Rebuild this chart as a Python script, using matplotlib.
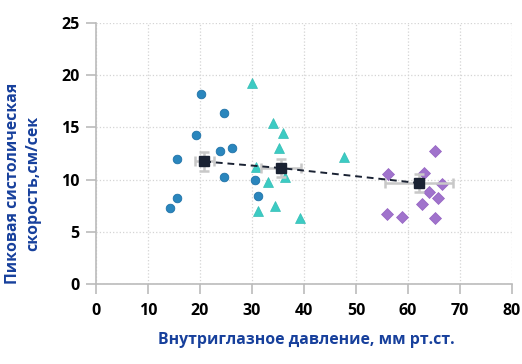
import matplotlib
matplotlib.use("Agg")
import matplotlib.pyplot as plt

plt.rcParams['font.family'] = ['Open Sans', 'DejaVu Sans']

# group 1 (circles)
circ_x = [20.2, 24.7, 19.3, 23.9, 26.2, 15.5, 24.7, 30.5, 31.1, 15.5, 14.3]
circ_y = [18.2, 16.4, 14.25, 12.7, 13.0, 11.95, 10.2, 10.0, 8.4, 8.2, 7.25]

# group 2 (triangles)
tri_x = [29.9, 34.1, 36.0, 35.1, 30.8, 36.4, 33.1, 34.5, 31.2, 39.3, 47.6]
tri_y = [19.2, 15.4, 14.45, 13.0, 11.2, 10.2, 9.75, 7.45, 6.97, 6.3, 12.15]

# group 3 (diamonds)
dia_x = [65.2, 56.2, 63.0, 66.5, 64.0, 65.8, 62.7, 56.0, 58.8, 65.2]
dia_y = [12.75, 10.5, 10.65, 9.6, 8.83, 8.26, 7.7, 6.72, 6.44, 6.34]

# group means with errors
mean_x = [20.8, 35.5, 62.1]
mean_y = [11.73, 11.1, 9.66]
err_x = [1.8, 3.85, 6.5]
err_y = [0.9, 0.88, 0.9]

x_ticks = [0, 10, 20, 30, 40, 50, 60, 70, 80]
y_ticks = [0, 5, 10, 15, 20, 25]

fig = plt.figure(figsize=(5.22, 3.64), dpi=100)
ax = fig.add_axes([0.184, 0.22, 0.797, 0.717])

ax.plot(circ_x, circ_y, 'o', ms=6.2, color='#2a86bd', mec='#1f72a8', mew=0.6, zorder=3)
ax.plot(tri_x, tri_y, '^', ms=7, color='#3ccbc3', mec='#35bdb5', mew=0.5, zorder=3)
ax.plot(dia_x, dia_y, 'D', ms=6, color='#a073cc', mec='#9462c2', mew=0.5, zorder=3)

ax.errorbar(mean_x, mean_y, xerr=err_x, yerr=err_y, fmt='none', ecolor='#c8c8c8',
            elinewidth=1.8, capsize=3.5, capthick=1.8, zorder=4)
ax.plot(mean_x, mean_y, '--', color='#1a2233', lw=1.4, dashes=(3.5, 2.5), zorder=5)
ax.plot(mean_x, mean_y, 's', ms=7, color='#1a2233', zorder=6)

ax.set_xlim(0, 80)
ax.set_ylim(0, 25)
ax.set_xticks(x_ticks)
ax.set_yticks(y_ticks)
ax.grid(True, color='#d4d4d4', ls=':', lw=0.9)
ax.set_axisbelow(True)

for s in ['top', 'right']:
    ax.spines[s].set_visible(False)
for s in ['left', 'bottom']:
    ax.spines[s].set_color('#bbbbbb')
    ax.spines[s].set_linewidth(1.2)

ax.tick_params(axis='both', colors='#bbbbbb', length=7, width=1.2, labelcolor='black',
               labelsize=11.5)
ax.tick_params(axis='x', pad=7)
ax.tick_params(axis='y', pad=5)
for lbl in ax.get_xticklabels() + ax.get_yticklabels():
    lbl.set_fontweight('bold')

fig.text(0.586, 0.066, 'Внутриглазное давление, мм рт.ст.', ha='center', va='center',
         fontsize=11.4, fontweight='bold', color='#17409c')
fig.text(0.044, 0.497, 'Пиковая систолическая\nскорость,см/сек', ha='center', va='center',
         rotation=90, multialignment='center', fontsize=11.4, fontweight='bold',
         color='#17409c', linespacing=1.3)

fig.savefig('out.png', dpi=100)
